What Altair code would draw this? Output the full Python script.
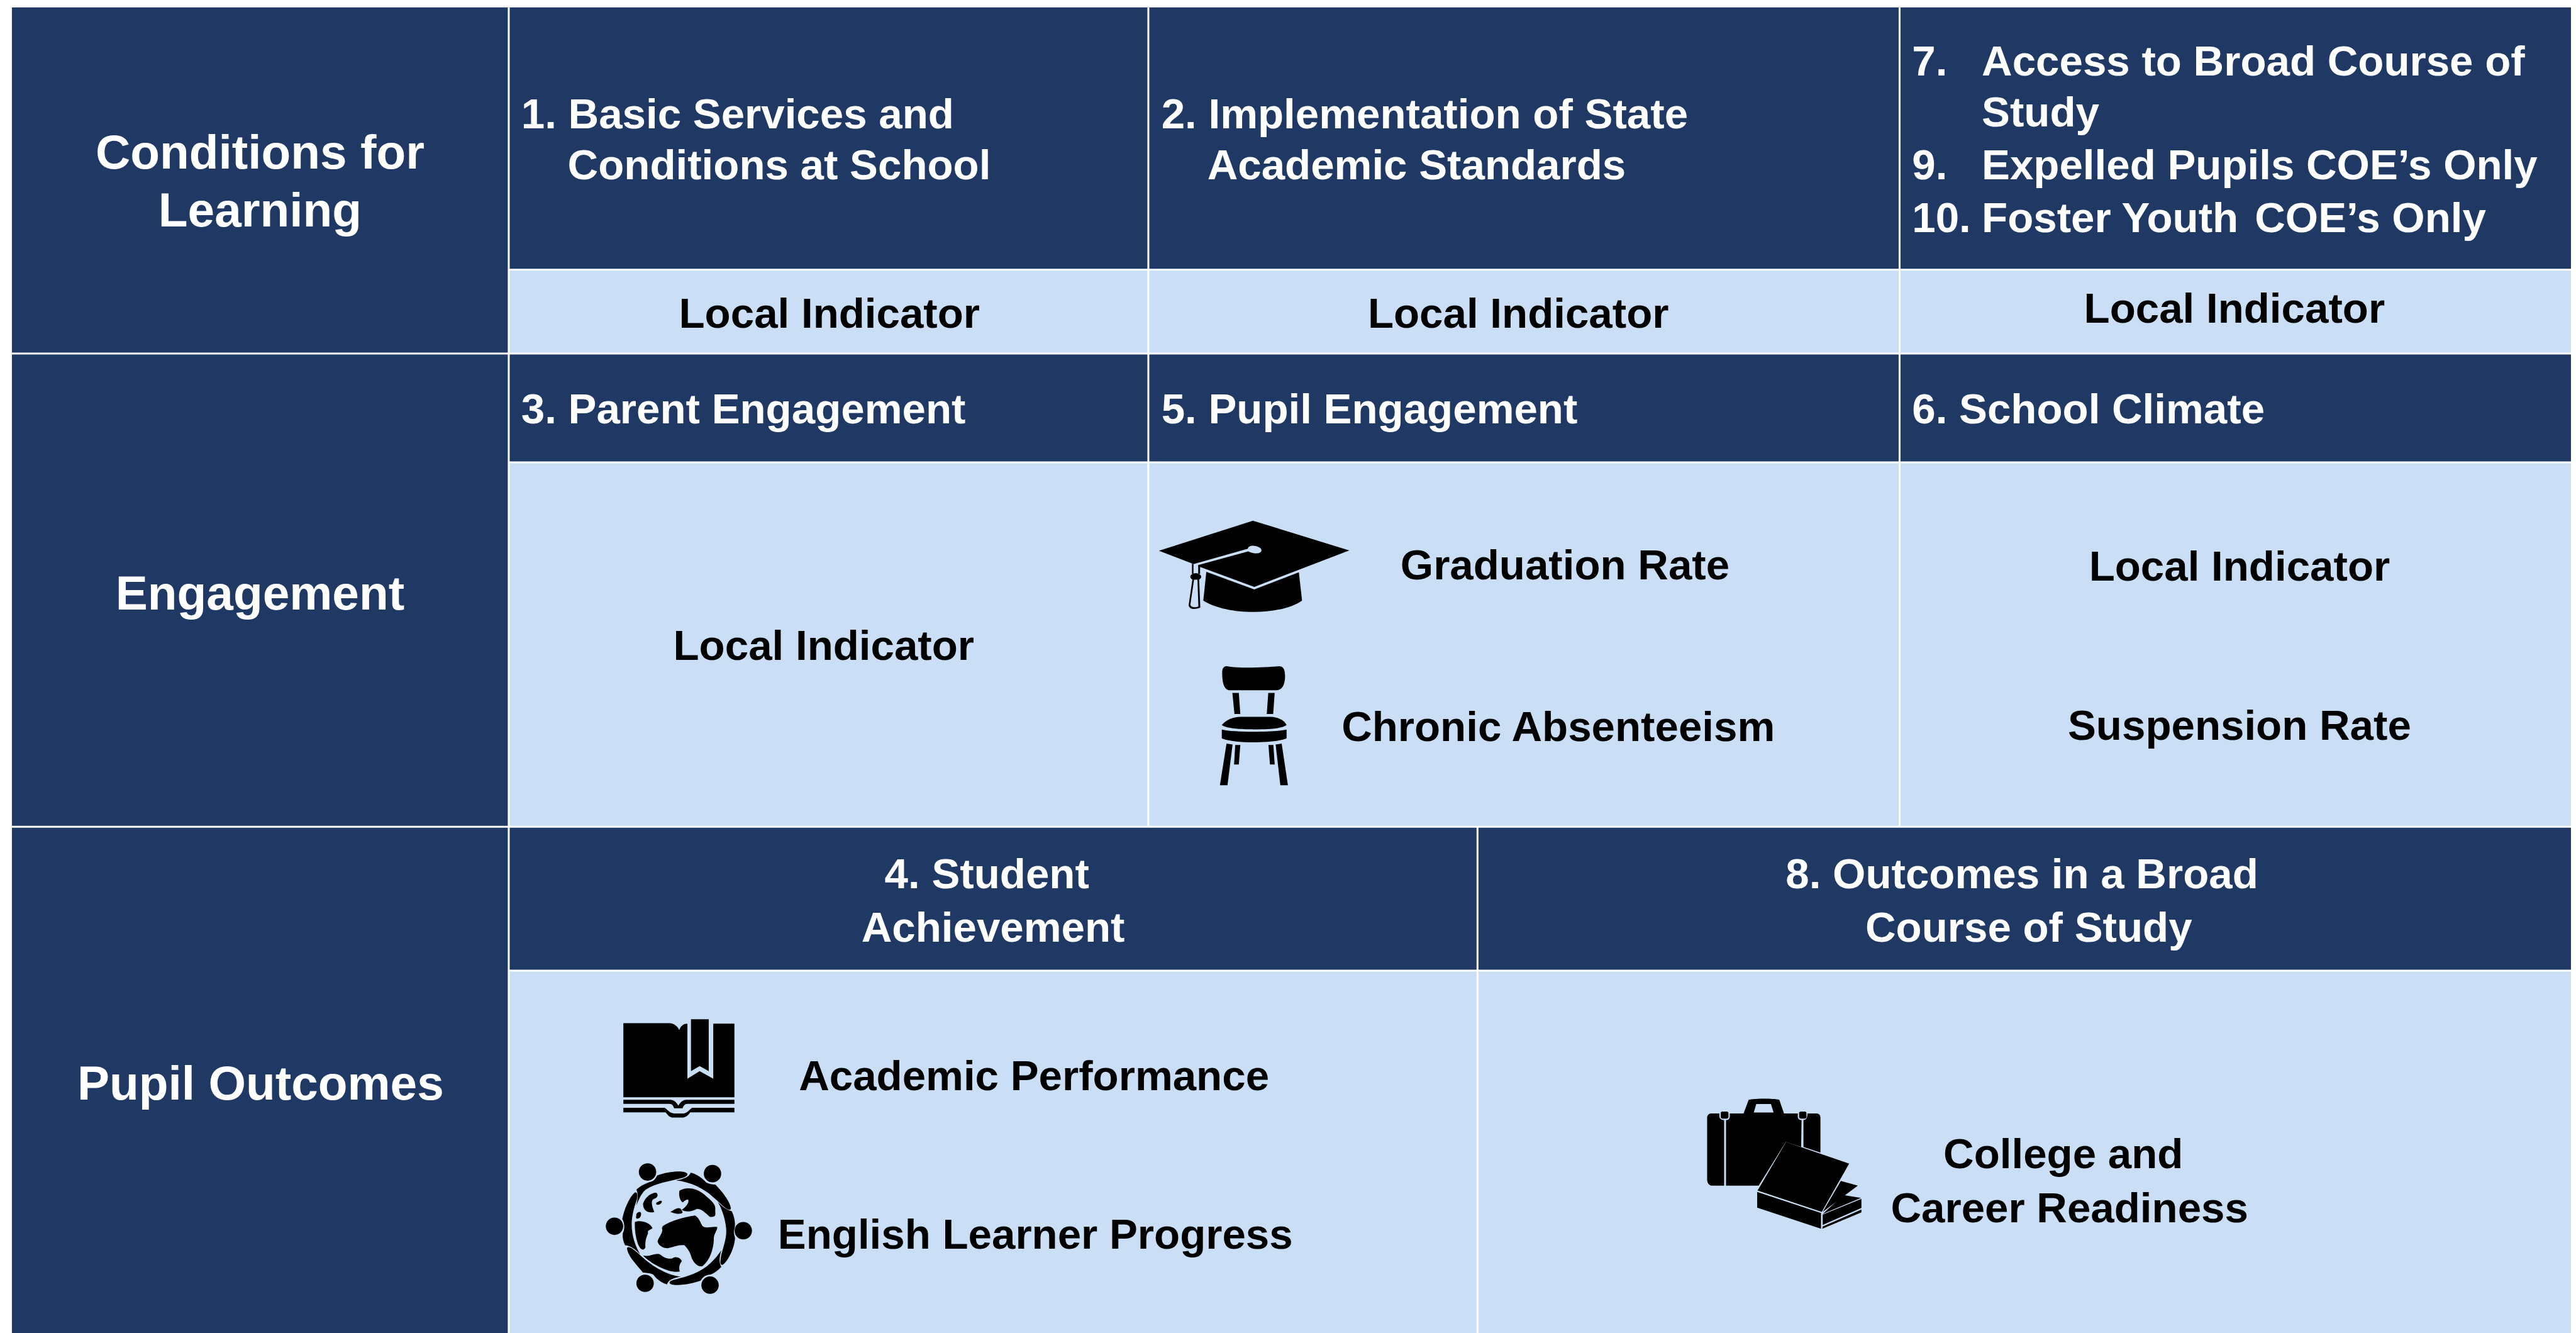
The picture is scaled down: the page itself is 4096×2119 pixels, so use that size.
import re
import altair as alt
import pandas as pd

# Drawing scale: reference pixels to window pixels
S = 4096 / 4547
NAVY = "#1F3864"
LIGHT = "#CADEF5"
FONT = "Liberation Sans"
TITLE_SIZE = 85 * S
BODY_SIZE = 74.7 * S

# Grid edges of the table (reference pixels)
left, c1, c2, c3, c4, right = 21, 898, 2027, 2608, 3353, 4547
top, r1a, r1, r2a, r2, r3a, bottom = 13, 476, 624, 816, 1459, 1713, 2353

cell_x = [left, left, left, c1, c1, c1, c1, c1, c1, c3, c1, c3]
cell_x2 = [c1, c1, c1, right, right, right, right, right, c3, right, c3, right]
cell_y = [top, r1, r2, top, r1a, r1, r2a, r2, r2, r2, r3a, r3a]
cell_y2 = [r1, r2, bottom, r1a, r1, r2a, r2, r3a, r3a, r3a, bottom, bottom]
cell_fill = [NAVY, NAVY, NAVY, NAVY, LIGHT, NAVY, LIGHT, NAVY, NAVY, NAVY, LIGHT, LIGHT]

line_x = [c1, c2, c4, c3, left, left, c1, c1, c1]
line_x2 = [c1, c2, c4, c3, right, right, right, right, right]
line_y = [top, top, top, r2, r1, r2, r1a, r2a, r3a]
line_y2 = [bottom, r2, r2, bottom, r1, r2, r1a, r2a, r3a]

# Left-aligned text
left_text = [
    "1. Basic Services and", "Conditions at School",
    "2. Implementation of State", "Academic Standards",
    "7.", "Access to Broad Course of", "Study",
    "9.", "Expelled Pupils COE’s Only",
    "10.", "Foster", "Youth", "COE’s Only",
    "3. Parent Engagement", "5. Pupil Engagement", "6. School Climate",
    "Graduation Rate", "Chronic Absenteeism",
    "Academic Performance", "English Learner Progress",
]
left_x = [920, 1002, 2050, 2131, 3375, 3498, 3498, 3375, 3498, 3375, 3498, 3745, 3980,
          920, 2050, 3375, 2472, 2368, 1410, 1373]
left_y = [227, 316, 227, 316, 133, 133, 223, 316, 316, 410, 410, 410, 410,
          747, 747, 747, 1022, 1308, 1924, 2204]
left_color = ["white"] * 16 + ["black"] * 4

# Centred text
center_text = [
    "Conditions for", "Learning", "Engagement", "Pupil Outcomes",
    "Local Indicator", "Local Indicator", "Local Indicator",
    "Local Indicator", "Local Indicator", "Suspension Rate",
    "4. Student", "Achievement", "8. Outcomes in a Broad", "Course of Study",
    "College and", "Career Readiness",
]
center_x = [459, 459, 459, 460, 1464, 2680, 3944, 1454, 3953, 3953,
            1742, 1753, 3569, 3581, 3642, 3653]
center_y = [298, 400, 1076, 1940, 578, 578, 569, 1165, 1025, 1306,
            1567, 1662, 1567, 1662, 2062, 2157]
center_color = ["white"] * 4 + ["black"] * 6 + ["white"] * 4 + ["black"] * 2
center_size = [TITLE_SIZE] * 4 + [BODY_SIZE] * 12


def ell(cx, cy, rx, ry):
    k = 0.5523
    return (f"M{cx - rx},{cy} C{cx - rx},{cy - k * ry} {cx - k * rx},{cy - ry} {cx},{cy - ry} "
            f"C{cx + k * rx},{cy - ry} {cx + rx},{cy - k * ry} {cx + rx},{cy} "
            f"C{cx + rx},{cy + k * ry} {cx + k * rx},{cy + ry} {cx},{cy + ry} "
            f"C{cx - k * rx},{cy + ry} {cx - rx},{cy + k * ry} {cx - rx},{cy} Z")


def scaled(path, sx, sy):
    """Rescale an outline traced in a zoomed crop to reference pixels."""
    return re.sub(r"(-?[\d.]+),(-?[\d.]+)",
                  lambda m: f"{float(m[1]) / sx:.2f},{float(m[2]) / sy:.2f}", path)


cap_parts = [
    ("M137,267 L635,113 L1145,265 L642,452 L355,350 L315,333 Z", False),
    ("M388,375 L642,465 L878,377 L895,522 C780,600 500,600 372,522 Z", False),
    ("M320,335 L608,256 C610,240 640,236 665,248 C690,258 682,280 655,280 C635,282 615,272 610,270 L345,340 L345,350 L320,350 Z", True),
    ("M312,333 L320,335 L320,385 L312,385 Z", False),
    ("M345,340 L355,345 L355,385 L345,385 Z", False),
    (ell(332, 400, 29, 18), False),
    ("M314,415 L350,415 L356,558 C340,566 315,568 303,560 C295,555 294,548 295,542 Z", False),
    ("M323,415 L341,415 L346,552 C335,557 320,558 310,552 C304,548 303,545 304,540 Z", True),
]
chair_parts = [
    ("M495,858 C560,870 700,865 775,858 C800,860 805,880 805,915 C803,955 790,980 760,982 L510,982 C480,978 472,940 472,890 C472,870 480,858 495,858 Z", False),
    ("M526,995 L560,995 L568,1103 L537,1103 Z", False),
    ("M716,995 L750,995 L742,1103 L708,1103 Z", False),
    ("M470,1160 C490,1135 530,1118 570,1118 L730,1118 C770,1120 800,1135 813,1160 C790,1178 720,1182 640,1182 C560,1182 495,1178 470,1160 Z", False),
    ("M470,1183 C530,1198 750,1198 813,1183 L813,1228 C750,1255 530,1255 470,1228 Z", False),
    ("M495,1255 L527,1260 L500,1468 L460,1468 Z", False),
    ("M755,1260 L787,1255 L820,1468 L780,1468 Z", False),
    ("M541,1262 L568,1262 L560,1362 L535,1362 Z", False),
    ("M717,1262 L743,1262 L750,1362 L725,1362 Z", False),
]
book_parts = [
    ("M181,128 L430,128 C450,130 470,145 477,162 C485,140 500,130 520,130 L520,402 L585,365 L657,402 L657,130 L769,130 L769,494 L181,494 Z", False),
    ("M539,108 L633,108 L633,365 L585,340 L539,365 Z", False),
    ("M181,506 L430,506 C450,506 462,520 472,535 C482,520 495,506 515,506 L769,506 L769,526 L520,526 C505,526 500,535 495,548 L450,548 C445,535 440,526 425,526 L181,526 Z", False),
    ("M181,546 L400,546 C415,555 425,572 450,574 L500,574 C520,572 530,555 545,546 L769,546 L769,568 L535,568 C525,580 515,594 490,594 L445,594 C425,594 415,580 405,568 L181,568 Z", False),
]
globe_parts = [
    (ell(309, 863, 46, 43), False), (ell(653, 871, 46, 43), False), (ell(134, 1131, 46, 43), False),
    (ell(816, 1153, 46, 43), False), (ell(296, 1413, 46, 43), False), (ell(640, 1422, 46, 43), False),
    ("M250,950 C280,925 310,915 330,910 C345,905 352,895 360,880 C410,862 480,855 510,865 C530,872 520,885 490,893 C430,908 350,918 300,950 C280,965 260,1000 250,1030 C255,1000 262,975 250,950 Z", False),
    ("M537,867 C570,872 600,895 620,915 C640,925 660,925 668,925 C710,965 745,1010 750,1040 C752,1055 735,1050 720,1040 C700,1025 680,1005 660,990 C610,945 530,910 460,905 C490,900 530,890 537,867 Z", False),
    ("M680,1010 C700,1030 725,1050 755,1057 C770,1085 775,1120 770,1140 C760,1170 775,1180 772,1195 C765,1250 730,1310 705,1322 C690,1322 695,1300 700,1270 C715,1220 730,1180 725,1140 C720,1090 700,1040 680,1010 Z", False),
    ("M700,1250 C690,1280 685,1310 700,1332 C680,1350 660,1365 640,1370 C615,1370 600,1385 590,1400 C550,1415 470,1428 435,1418 C415,1410 430,1400 450,1395 C520,1380 590,1360 640,1315 C665,1295 685,1270 700,1250 Z", False),
    ("M200,1240 C205,1225 230,1240 260,1265 C320,1320 400,1370 485,1380 C450,1385 420,1395 412,1418 C380,1410 355,1390 340,1370 C320,1360 300,1362 285,1360 C250,1320 205,1280 200,1240 Z", False),
    ("M240,965 C255,960 258,975 252,1000 C240,1030 225,1080 225,1120 C225,1180 245,1230 270,1270 C245,1245 215,1225 190,1225 C180,1205 175,1185 178,1165 C190,1145 188,1115 175,1095 C185,1050 210,990 240,965 Z", False),
    ("M390,1130 C430,1105 500,1085 560,1078 C580,1085 590,1115 600,1130 C620,1145 650,1130 678,1135 C680,1150 660,1170 660,1190 C660,1240 640,1300 600,1328 C575,1335 550,1310 540,1280 C535,1260 520,1240 505,1225 C480,1220 440,1235 415,1240 C390,1240 365,1225 362,1205 C370,1180 395,1160 385,1140 Z", False),
    ("M478,955 C510,935 570,940 610,975 C640,1000 670,1020 668,1045 C665,1070 680,1085 640,1085 C620,1070 600,1045 570,1045 C550,1055 520,1065 490,1050 C505,1040 530,1020 525,1000 C505,995 500,1020 490,1010 C475,990 475,970 478,955 Z", False),
    ("M430,1060 C450,1050 470,1035 485,1045 L495,1062 C490,1075 455,1070 430,1060 Z", False),
    ("M285,1020 C295,990 325,965 355,965 C370,975 360,990 345,995 C325,1000 330,1030 345,1060 C320,1068 285,1060 285,1020 Z", False),
    ("M355,1015 C365,1010 380,1000 385,1008 C385,1020 365,1030 355,1022 Z", False),
    ("M250,1070 C258,1058 275,1055 275,1070 C275,1090 255,1100 248,1090 Z", False),
    ("M242,1110 C270,1100 320,1110 335,1140 C325,1150 305,1150 312,1165 C300,1190 295,1210 298,1235 C285,1260 265,1240 255,1210 C245,1180 240,1140 242,1110 Z", False),
    ("M285,1275 C320,1285 350,1260 375,1270 C395,1285 415,1295 440,1290 C460,1275 490,1290 490,1305 C475,1320 475,1340 480,1355 C430,1365 330,1320 285,1275 Z", False),
]
case_parts = [
    ("M125,195 L165,195 L165,215 C170,228 185,230 190,230 L190,577 L125,577 C108,575 100,560 100,545 L100,215 C102,200 112,195 125,195 Z", False),
    ("M220,195 L293,195 L320,122 C350,115 450,115 482,122 L507,195 L580,195 L580,215 C583,225 590,230 600,230 L598,372 L517,345 L373,577 L200,577 L200,230 C210,230 220,225 220,210 Z", False),
    ("M360,145 L438,145 L452,190 L347,190 Z", True),
    ("M180,185 L205,185 C210,185 213,190 213,195 L213,212 C213,218 208,222 203,222 L182,222 C176,222 172,218 172,212 L172,193 C172,188 175,185 180,185 Z", False),
    ("M595,185 L618,185 C623,185 626,190 626,195 L626,212 C626,218 621,222 616,222 L597,222 C591,222 587,218 587,212 L587,193 C587,188 590,185 595,185 Z", False),
    ("M610,230 C625,228 630,220 632,195 L680,195 C695,197 700,205 700,220 L700,402 L610,372 Z", False),
    ("M518,345 L852,460 L707,716 L367,603 Z", False),
    ("M808,552 L898,577 L712,716 Z", False),
    ("M822,627 L915,642 L712,727 Z", False),
    ("M365,610 L703,722 L703,805 L365,693 Z", False),
    ("M712,730 L917,647 L917,695 L712,785 Z", False),
    ("M712,793 L917,703 L917,718 L710,805 Z", False),
]
# parts, crop origin (reference pixels), crop magnification
icons = [
    (cap_parts, 2000, 880, 3.0, 1568 / 540),
    (chair_parts, 2000, 880, 3.0, 1568 / 540),
    (book_parts, 1040, 1760, 3.0, 2.8),
    (globe_parts, 1040, 1760, 3.0, 2.8),
    (case_parts, 2980, 1900, 3.0, 3.0),
]

icon_rows = []
for parts, ox, oy, sx, sy in icons:
    for outline, cut in parts:
        icon_rows.append({"x": ox, "y": oy, "path": scaled(outline, sx, sy),
                          "fill": LIGHT if cut else "black"})

# The page box is 4080 px wide: keep true scale inside it
x_scale = alt.Scale(domain=[8 / S, 4088 / S], nice=False, zero=False)
y_scale = alt.Scale(domain=[2119 / S, 8 / S], nice=False, zero=False)
X = alt.X("x:Q", scale=x_scale, axis=None)
Y = alt.Y("y:Q", scale=y_scale, axis=None)

cells = pd.DataFrame({"x": cell_x, "x2": cell_x2, "y": cell_y, "y2": cell_y2, "fill": cell_fill})
cell_layer = alt.Chart(cells).mark_rect(strokeWidth=0, clip=True).encode(
    x=X, x2="x2:Q", y=Y, y2="y2:Q", color=alt.Color("fill:N", scale=None))

lines = pd.DataFrame({"x": line_x, "x2": line_x2, "y": line_y, "y2": line_y2})
line_layer = alt.Chart(lines).mark_rule(color="white", strokeWidth=3, clip=True).encode(
    x=X, x2="x2:Q", y=Y, y2="y2:Q")

left_df = pd.DataFrame({"t": left_text, "x": left_x, "y": left_y, "c": left_color})
left_layer = alt.Chart(left_df).mark_text(
    align="left", baseline="alphabetic", font=FONT, fontWeight="bold", fontSize=BODY_SIZE
).encode(x=X, y=Y, text="t:N", color=alt.Color("c:N", scale=None))

center_df = pd.DataFrame({"t": center_text, "x": center_x, "y": center_y,
                          "c": center_color, "s": center_size})
center_layer = alt.Chart(center_df).mark_text(
    align="center", baseline="alphabetic", font=FONT, fontWeight="bold"
).encode(x=X, y=Y, text="t:N", color=alt.Color("c:N", scale=None),
         size=alt.Size("s:Q", scale=None))

icon_df = pd.DataFrame(icon_rows)
icon_df["o"] = range(len(icon_df))
icon_layer = alt.Chart(icon_df).mark_point(filled=True, opacity=1, strokeWidth=0).encode(
    x=X, y=Y,
    shape=alt.Shape("path:N", scale=None),
    color=alt.Color("fill:N", scale=None),
    size=alt.value((2 * S) ** 2),
    order="o:Q",
)

chart = alt.layer(cell_layer, line_layer, icon_layer, left_layer, center_layer).properties(
    width=4080, height=2111, padding=0, background="white",
    autosize=alt.AutoSizeParams(type="none"),
).configure_view(stroke=None)

chart.save("out.html", embed_options={"renderer": "svg", "actions": False})
